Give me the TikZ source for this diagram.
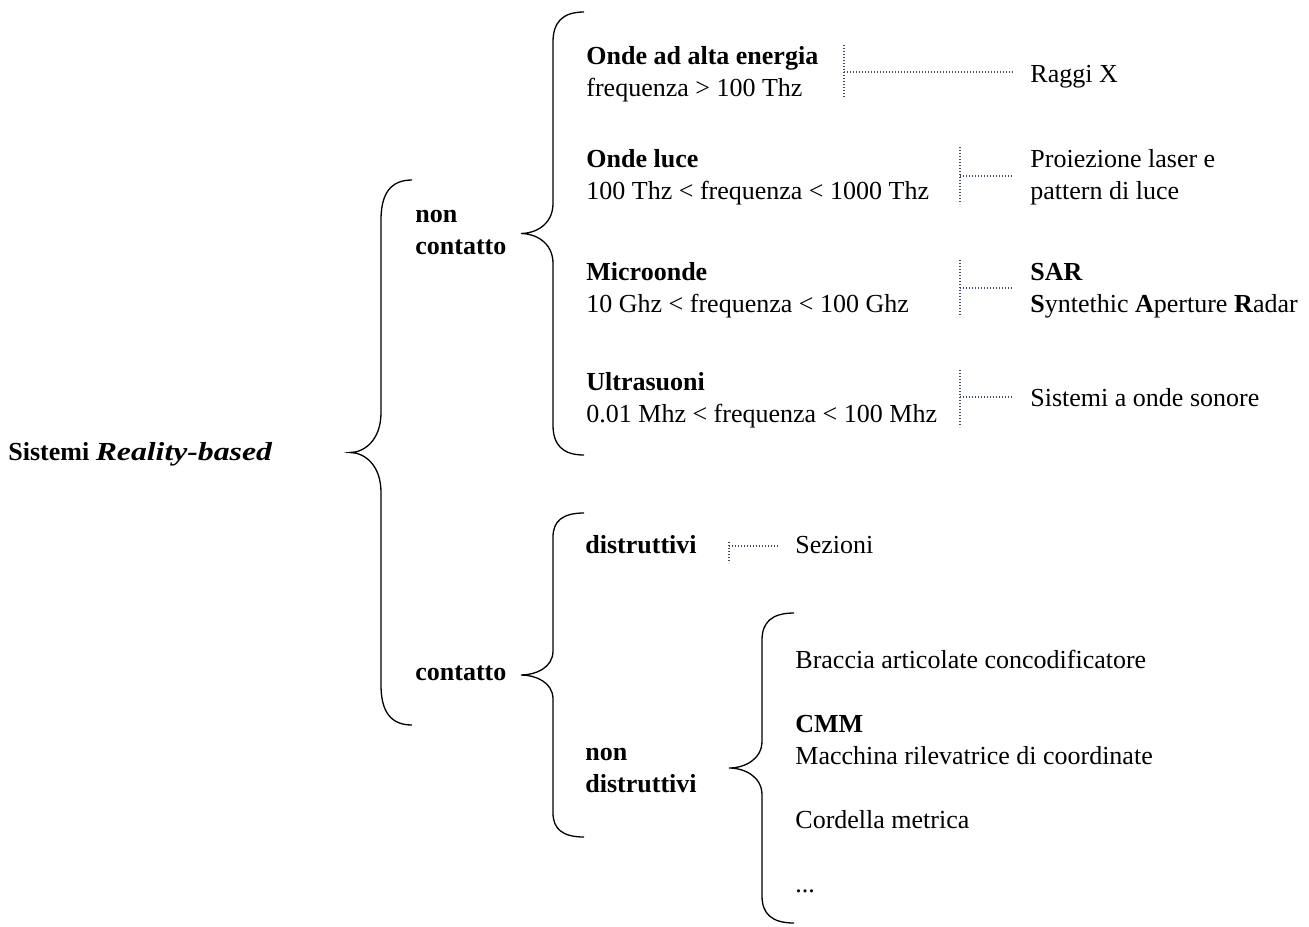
\documentclass[tikz,border=0pt]{standalone}
\usepackage{fontspec}
\setmainfont{Liberation Serif}
\definecolor{slate}{HTML}{3E4B5E}
\newcommand\twoline[2]{\begin{tabular}[t]{@{}l@{}}#1\\#2\end{tabular}}
% #1 x of vertical, #2 top y, #3 bottom y, #4 x of ends, #5 x of tip, #6 curve size
\newcommand\mybrace[6]{%
  \draw[bracestyle] (#4,#2) .. controls ({#1+0.3*(#4-#1)},#2) and (#1,{#2+0.35*#6}) .. (#1,{#2+#6})
    -- (#1,{(#2+#3)/2-#6}) .. controls (#1,{(#2+#3)/2-0.3*#6}) and ({#5+0.45*(#1-#5)},{(#2+#3)/2}) .. (#5,{(#2+#3)/2})
    .. controls ({#5+0.45*(#1-#5)},{(#2+#3)/2}) and (#1,{(#2+#3)/2+0.3*#6}) .. (#1,{(#2+#3)/2+#6})
    -- (#1,{#3-#6}) .. controls (#1,{#3-0.35*#6}) and ({#1+0.3*(#4-#1)},#3) .. (#4,#3);}
\begin{document}
\begin{tikzpicture}[x=0.5pt,y=-0.5pt,
  every node/.style={inner sep=0pt, anchor=base west, font=\fontsize{13}{16}\selectfont},
  bracestyle/.style={draw=black, line width=0.65pt},
  linkdot/.style={draw=slate, line width=1.1pt, dash pattern=on 0.55pt off 0.95pt},
  leadline/.style={linkdot, shorten >=8.5pt}]
\path[use as bounding box] (0,0) rectangle (1309,926);

% root and first level
\node (root) at (8,460) {\textbf{Sistemi \scalebox{1.22}[1]{\textit{Reality-based}}}};
\mybrace{381}{180}{725}{412}{350}{40}
\node (nc) at (415,222) {\twoline{\textbf{non}}{\textbf{contatto}}};
\node (ct) at (415,680) {\textbf{contatto}};

% non contatto branch
\mybrace{553}{12}{455}{584}{521}{30}
\node (g1) at (586,64) {\twoline{\textbf{Onde ad alta energia}}{frequenza > 100 Thz}};
\node (g2) at (586,167) {\twoline{\textbf{Onde luce}}{100 Thz < frequenza < 1000 Thz}};
\node (g3) at (586,280) {\twoline{\textbf{Microonde}}{10 Ghz < frequenza < 100 Ghz}};
\node (g4) at (586,390) {\twoline{\textbf{Ultrasuoni}}{0.01 Mhz < frequenza < 100 Mhz}};

\node (r1) at (1030,82) {Raggi X};
\node (r2) at (1030,167) {\twoline{Proiezione laser e}{pattern di luce}};
\node (r3) at (1030,280) {\twoline{\textbf{SAR}}{\textbf{S}yntethic \textbf{A}perture \textbf{R}adar}};
\node (r4) at (1030,406) {Sistemi a onde sonore};

\coordinate (v1t) at (844,45);  \coordinate (v1b) at (844,97);  \coordinate (v1m) at (844,72);
\coordinate (v2t) at (960,147); \coordinate (v2b) at (960,204); \coordinate (v2m) at (960,176);
\coordinate (v3t) at (960,260); \coordinate (v3b) at (960,317); \coordinate (v3m) at (960,288);
\coordinate (v4t) at (960,370); \coordinate (v4b) at (960,427); \coordinate (v4m) at (960,397);
\foreach \i in {1,2,3,4}{
  \draw[linkdot] (v\i t) -- (v\i b);
  \draw[leadline] (v\i m) -- (v\i m -| r\i.west);
}

% contatto branch
\mybrace{553}{513}{837}{584}{521}{24}
\node (dis) at (585,553) {\textbf{distruttivi}};
\node (sez) at (795,553) {Sezioni};
\coordinate (v5t) at (729,542); \coordinate (v5b) at (729,563); \coordinate (v5m) at (729,546);
\draw[linkdot] (v5t) -- (v5b);
\draw[leadline] (v5m) -- (v5m -| sez.west);

\node (nd) at (585,760) {\twoline{\textbf{non}}{\textbf{distruttivi}}};
\mybrace{762}{613}{923}{794}{729}{27}
\node (b1) at (795,668) {Braccia articolate concodificatore};
\node (b2) at (795,732) {\twoline{\textbf{CMM}}{Macchina rilevatrice di coordinate}};
\node (b3) at (795,828) {Cordella metrica};
\node (b4) at (795,892) {...};
\end{tikzpicture}
\end{document}
